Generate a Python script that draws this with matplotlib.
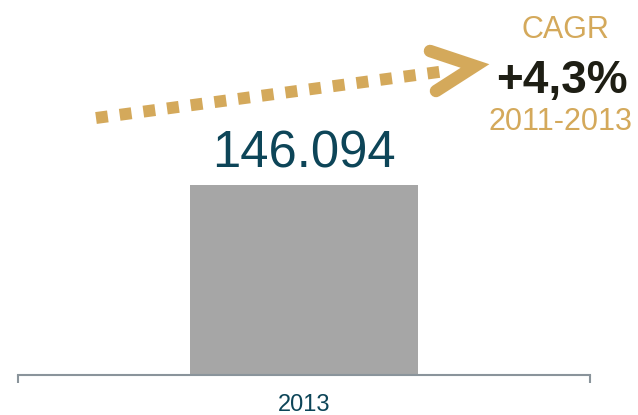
import matplotlib.pyplot as plt

plt.rcParams['font.family'] = ['Liberation Sans', 'DejaVu Sans']

years = ['2013']
values = [146094]
value_labels = ['146.094']
cagr_title = 'CAGR'
cagr_value = '+4,3%'
cagr_period = '2011-2013'

gold = '#D4A95B'
teal = '#0D4558'
bar_grey = '#A6A6A6'
axis_grey = '#8A949B'

W, H = 638, 415
fig = plt.figure(figsize=(W / 100, H / 100), dpi=100)

#%% bar panel
ax = fig.add_axes([18 / W, (H - 375) / H, (590 - 18) / W, 375 / H])
bars = ax.bar(range(len(years)), values, width=0.4, color=bar_grey)
ax.set_xlim(-0.5, 0.5)
ax.set_ylim(0, values[0] * 375 / 190)
for s in ['top', 'left', 'right']:
    ax.spines[s].set_visible(False)
ax.spines['bottom'].set_color(axis_grey)
ax.spines['bottom'].set_linewidth(1.5)
ax.set_yticks([])
ax.set_xticks(range(len(years)), labels=years)
ax.tick_params(axis='x', length=0, pad=14, labelsize=17, labelcolor=teal)
ax.set_xticks([-0.5, 0.5], minor=True)
ax.tick_params(axis='x', which='minor', length=6, width=1.5, color=axis_grey)
ax.bar_label(bars, labels=value_labels, padding=5, fontsize=36.5, color=teal)

#%% overlay: dotted trend arrow + CAGR text
ov = fig.add_axes([0, 0, 1, 1])
ov.set_xlim(0, W)
ov.set_ylim(H, 0)
ov.axis('off')
ov.plot([96, 446], [118, 71], color=gold, lw=8.6, dashes=(1, 1),
        solid_capstyle='butt', dash_capstyle='butt')
ov.plot([430, 475, 436], [51, 66, 91], color=gold, lw=9,
        solid_capstyle='round', solid_joinstyle='miter')

ov.text(565, 38, cagr_title, ha='center', va='baseline', fontsize=22, color=gold)
ov.text(562, 93, cagr_value, ha='center', va='baseline', fontsize=33,
        fontweight='bold', color='#1E1E14')
ov.text(560, 130, cagr_period, ha='center', va='baseline', fontsize=22, color=gold)

fig.savefig('out.png', dpi=100)
